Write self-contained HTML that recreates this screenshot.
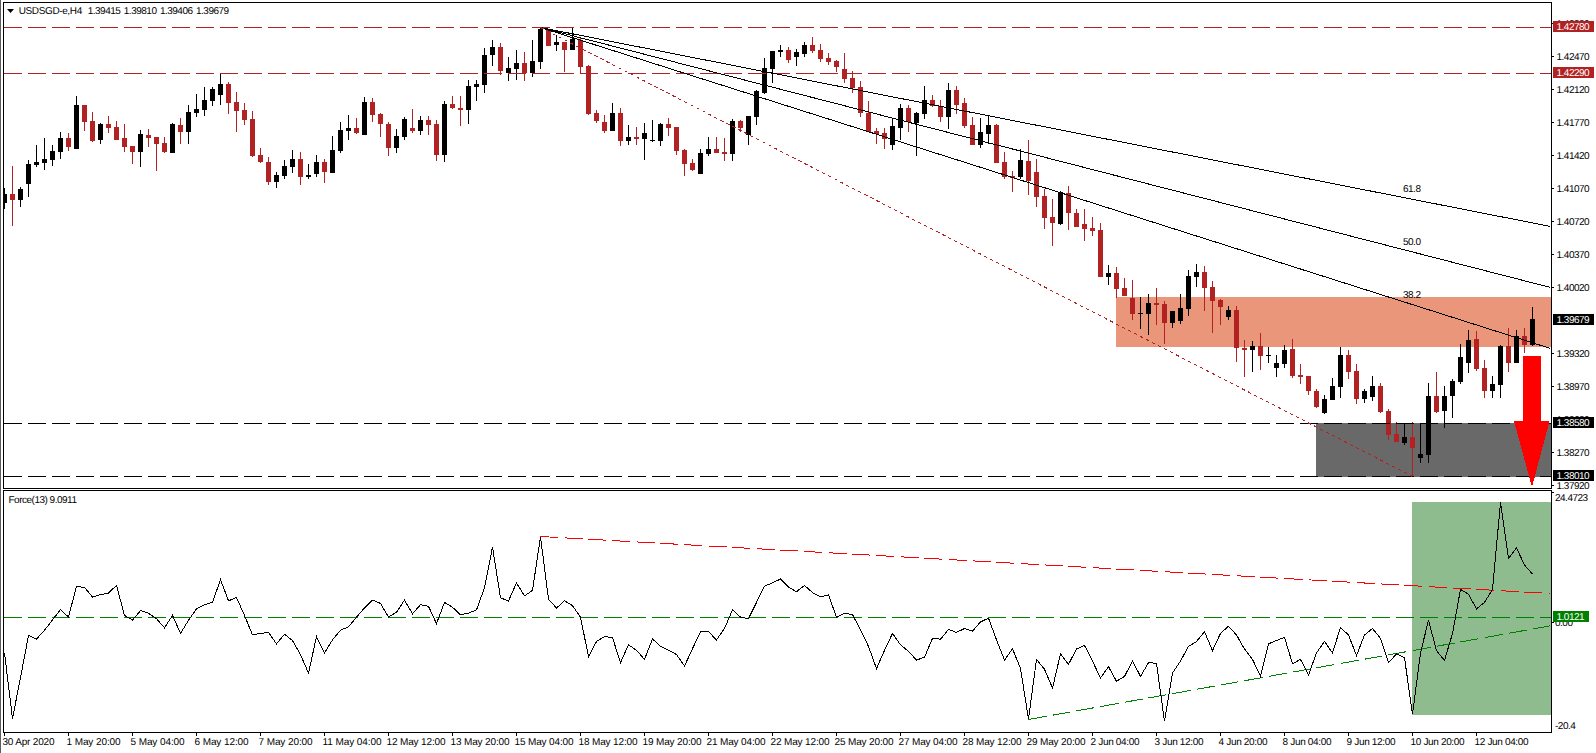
<!DOCTYPE html>
<html><head><meta charset="utf-8"><title>USDSGD H4</title>
<style>html,body{margin:0;padding:0;background:#fff;overflow:hidden}svg text{white-space:pre}</style>
</head><body>
<svg width="1596" height="753" viewBox="0 0 1596 753" style="display:block">
<rect x="0" y="0" width="1596" height="753" fill="#fff"/>
<rect x="0" y="0" width="1" height="753" fill="#5c5c5c"/>
<g shape-rendering="crispEdges">
<rect x="1116" y="297" width="435" height="50" fill="#E9967A"/>
<rect x="1316" y="423" width="235" height="54" fill="#696969"/>
<rect x="1412" y="502" width="139" height="213" fill="#8FBC8F"/>
</g>
<g shape-rendering="crispEdges">
<rect x="4" y="188" width="1" height="21" fill="#000"/>
<rect x="4" y="194" width="3" height="9" fill="#000"/>
<rect x="12" y="166" width="1" height="60" fill="#B22222"/>
<rect x="10" y="194" width="5" height="6" fill="#B22222"/>
<rect x="20" y="187" width="1" height="20" fill="#000"/>
<rect x="18" y="189" width="5" height="11" fill="#000"/>
<rect x="28" y="160" width="1" height="37" fill="#000"/>
<rect x="26" y="164" width="5" height="20" fill="#000"/>
<rect x="36" y="145" width="1" height="22" fill="#000"/>
<rect x="34" y="162" width="5" height="3" fill="#000"/>
<rect x="44" y="138" width="1" height="32" fill="#000"/>
<rect x="42" y="159" width="5" height="4" fill="#000"/>
<rect x="52" y="145" width="1" height="21" fill="#000"/>
<rect x="50" y="151" width="5" height="9" fill="#000"/>
<rect x="60" y="132" width="1" height="27" fill="#000"/>
<rect x="58" y="138" width="5" height="14" fill="#000"/>
<rect x="68" y="133" width="1" height="18" fill="#B22222"/>
<rect x="66" y="138" width="5" height="9" fill="#B22222"/>
<rect x="76" y="96" width="1" height="53" fill="#000"/>
<rect x="74" y="105" width="5" height="44" fill="#000"/>
<rect x="84" y="105" width="1" height="26" fill="#B22222"/>
<rect x="82" y="105" width="5" height="17" fill="#B22222"/>
<rect x="92" y="112" width="1" height="30" fill="#B22222"/>
<rect x="90" y="121" width="5" height="20" fill="#B22222"/>
<rect x="100" y="123" width="1" height="21" fill="#000"/>
<rect x="98" y="124" width="5" height="16" fill="#000"/>
<rect x="108" y="116" width="1" height="17" fill="#B22222"/>
<rect x="106" y="124" width="5" height="4" fill="#B22222"/>
<rect x="116" y="121" width="1" height="19" fill="#B22222"/>
<rect x="114" y="127" width="5" height="13" fill="#B22222"/>
<rect x="124" y="124" width="1" height="28" fill="#B22222"/>
<rect x="122" y="138" width="5" height="9" fill="#B22222"/>
<rect x="132" y="146" width="1" height="18" fill="#B22222"/>
<rect x="130" y="146" width="5" height="6" fill="#B22222"/>
<rect x="140" y="130" width="1" height="37" fill="#000"/>
<rect x="138" y="134" width="5" height="18" fill="#000"/>
<rect x="148" y="129" width="1" height="18" fill="#B22222"/>
<rect x="146" y="135" width="5" height="3" fill="#B22222"/>
<rect x="156" y="137" width="1" height="34" fill="#B22222"/>
<rect x="154" y="137" width="5" height="7" fill="#B22222"/>
<rect x="164" y="137" width="1" height="16" fill="#B22222"/>
<rect x="162" y="143" width="5" height="9" fill="#B22222"/>
<rect x="172" y="123" width="1" height="30" fill="#000"/>
<rect x="170" y="124" width="5" height="29" fill="#000"/>
<rect x="180" y="118" width="1" height="26" fill="#B22222"/>
<rect x="178" y="125" width="5" height="7" fill="#B22222"/>
<rect x="188" y="105" width="1" height="39" fill="#000"/>
<rect x="186" y="112" width="5" height="20" fill="#000"/>
<rect x="196" y="94" width="1" height="23" fill="#000"/>
<rect x="194" y="109" width="5" height="4" fill="#000"/>
<rect x="204" y="87" width="1" height="29" fill="#000"/>
<rect x="202" y="100" width="5" height="10" fill="#000"/>
<rect x="212" y="87" width="1" height="19" fill="#000"/>
<rect x="210" y="89" width="5" height="12" fill="#000"/>
<rect x="220" y="73" width="1" height="32" fill="#000"/>
<rect x="218" y="84" width="5" height="11" fill="#000"/>
<rect x="228" y="82" width="1" height="32" fill="#B22222"/>
<rect x="226" y="84" width="5" height="19" fill="#B22222"/>
<rect x="236" y="92" width="1" height="40" fill="#B22222"/>
<rect x="234" y="102" width="5" height="9" fill="#B22222"/>
<rect x="244" y="103" width="1" height="22" fill="#B22222"/>
<rect x="242" y="110" width="5" height="10" fill="#B22222"/>
<rect x="252" y="111" width="1" height="46" fill="#B22222"/>
<rect x="250" y="119" width="5" height="37" fill="#B22222"/>
<rect x="260" y="148" width="1" height="15" fill="#B22222"/>
<rect x="258" y="155" width="5" height="7" fill="#B22222"/>
<rect x="268" y="157" width="1" height="28" fill="#B22222"/>
<rect x="266" y="162" width="5" height="20" fill="#B22222"/>
<rect x="276" y="172" width="1" height="16" fill="#000"/>
<rect x="274" y="175" width="5" height="7" fill="#000"/>
<rect x="284" y="160" width="1" height="19" fill="#000"/>
<rect x="282" y="166" width="5" height="10" fill="#000"/>
<rect x="292" y="150" width="1" height="23" fill="#000"/>
<rect x="290" y="159" width="5" height="8" fill="#000"/>
<rect x="300" y="152" width="1" height="33" fill="#B22222"/>
<rect x="298" y="159" width="5" height="18" fill="#B22222"/>
<rect x="308" y="164" width="1" height="15" fill="#000"/>
<rect x="306" y="175" width="5" height="2" fill="#000"/>
<rect x="316" y="155" width="1" height="22" fill="#000"/>
<rect x="314" y="162" width="5" height="12" fill="#000"/>
<rect x="324" y="159" width="1" height="24" fill="#B22222"/>
<rect x="322" y="162" width="5" height="10" fill="#B22222"/>
<rect x="332" y="136" width="1" height="37" fill="#000"/>
<rect x="330" y="150" width="5" height="23" fill="#000"/>
<rect x="340" y="122" width="1" height="31" fill="#000"/>
<rect x="338" y="130" width="5" height="21" fill="#000"/>
<rect x="348" y="115" width="1" height="25" fill="#000"/>
<rect x="346" y="128" width="5" height="3" fill="#000"/>
<rect x="356" y="118" width="1" height="16" fill="#B22222"/>
<rect x="354" y="128" width="5" height="5" fill="#B22222"/>
<rect x="364" y="97" width="1" height="38" fill="#000"/>
<rect x="362" y="102" width="5" height="33" fill="#000"/>
<rect x="372" y="98" width="1" height="24" fill="#B22222"/>
<rect x="370" y="102" width="5" height="13" fill="#B22222"/>
<rect x="380" y="113" width="1" height="24" fill="#B22222"/>
<rect x="378" y="114" width="5" height="10" fill="#B22222"/>
<rect x="388" y="122" width="1" height="34" fill="#B22222"/>
<rect x="386" y="124" width="5" height="24" fill="#B22222"/>
<rect x="396" y="129" width="1" height="24" fill="#000"/>
<rect x="394" y="136" width="5" height="12" fill="#000"/>
<rect x="404" y="117" width="1" height="23" fill="#000"/>
<rect x="402" y="119" width="5" height="18" fill="#000"/>
<rect x="412" y="109" width="1" height="24" fill="#B22222"/>
<rect x="410" y="128" width="5" height="3" fill="#B22222"/>
<rect x="420" y="116" width="1" height="19" fill="#000"/>
<rect x="418" y="120" width="5" height="11" fill="#000"/>
<rect x="428" y="116" width="1" height="19" fill="#B22222"/>
<rect x="426" y="120" width="5" height="5" fill="#B22222"/>
<rect x="436" y="120" width="1" height="41" fill="#B22222"/>
<rect x="434" y="124" width="5" height="31" fill="#B22222"/>
<rect x="444" y="101" width="1" height="61" fill="#000"/>
<rect x="442" y="104" width="5" height="51" fill="#000"/>
<rect x="452" y="96" width="1" height="13" fill="#B22222"/>
<rect x="450" y="104" width="5" height="4" fill="#B22222"/>
<rect x="460" y="96" width="1" height="30" fill="#B22222"/>
<rect x="458" y="108" width="5" height="2" fill="#B22222"/>
<rect x="468" y="80" width="1" height="44" fill="#000"/>
<rect x="466" y="86" width="5" height="24" fill="#000"/>
<rect x="476" y="80" width="1" height="21" fill="#000"/>
<rect x="474" y="84" width="5" height="3" fill="#000"/>
<rect x="484" y="48" width="1" height="45" fill="#000"/>
<rect x="482" y="55" width="5" height="30" fill="#000"/>
<rect x="492" y="40" width="1" height="26" fill="#000"/>
<rect x="490" y="47" width="5" height="8" fill="#000"/>
<rect x="500" y="43" width="1" height="32" fill="#B22222"/>
<rect x="498" y="47" width="5" height="24" fill="#B22222"/>
<rect x="508" y="57" width="1" height="24" fill="#000"/>
<rect x="506" y="68" width="5" height="5" fill="#000"/>
<rect x="516" y="50" width="1" height="30" fill="#000"/>
<rect x="514" y="63" width="5" height="6" fill="#000"/>
<rect x="524" y="52" width="1" height="29" fill="#B22222"/>
<rect x="522" y="63" width="5" height="10" fill="#B22222"/>
<rect x="532" y="40" width="1" height="37" fill="#000"/>
<rect x="530" y="61" width="5" height="12" fill="#000"/>
<rect x="540" y="28" width="1" height="41" fill="#000"/>
<rect x="538" y="29" width="5" height="33" fill="#000"/>
<rect x="548" y="29" width="1" height="17" fill="#B22222"/>
<rect x="546" y="30" width="5" height="16" fill="#B22222"/>
<rect x="556" y="35" width="1" height="16" fill="#000"/>
<rect x="554" y="42" width="5" height="3" fill="#000"/>
<rect x="564" y="42" width="1" height="30" fill="#B22222"/>
<rect x="562" y="42" width="5" height="8" fill="#B22222"/>
<rect x="572" y="28" width="1" height="22" fill="#000"/>
<rect x="570" y="39" width="5" height="11" fill="#000"/>
<rect x="580" y="37" width="1" height="36" fill="#B22222"/>
<rect x="578" y="40" width="5" height="27" fill="#B22222"/>
<rect x="588" y="65" width="1" height="50" fill="#B22222"/>
<rect x="586" y="66" width="5" height="48" fill="#B22222"/>
<rect x="596" y="110" width="1" height="13" fill="#B22222"/>
<rect x="594" y="113" width="5" height="8" fill="#B22222"/>
<rect x="604" y="115" width="1" height="18" fill="#B22222"/>
<rect x="602" y="122" width="5" height="9" fill="#B22222"/>
<rect x="612" y="103" width="1" height="28" fill="#000"/>
<rect x="610" y="113" width="5" height="18" fill="#000"/>
<rect x="620" y="108" width="1" height="38" fill="#B22222"/>
<rect x="618" y="113" width="5" height="28" fill="#B22222"/>
<rect x="628" y="125" width="1" height="20" fill="#000"/>
<rect x="626" y="137" width="5" height="4" fill="#000"/>
<rect x="636" y="127" width="1" height="18" fill="#B22222"/>
<rect x="634" y="137" width="5" height="2" fill="#B22222"/>
<rect x="644" y="123" width="1" height="37" fill="#000"/>
<rect x="642" y="133" width="5" height="6" fill="#000"/>
<rect x="652" y="120" width="1" height="22" fill="#000"/>
<rect x="650" y="140" width="5" height="1" fill="#000"/>
<rect x="660" y="123" width="1" height="23" fill="#000"/>
<rect x="658" y="124" width="5" height="17" fill="#000"/>
<rect x="668" y="118" width="1" height="18" fill="#B22222"/>
<rect x="666" y="124" width="5" height="4" fill="#B22222"/>
<rect x="676" y="127" width="1" height="28" fill="#B22222"/>
<rect x="674" y="127" width="5" height="24" fill="#B22222"/>
<rect x="684" y="149" width="1" height="27" fill="#B22222"/>
<rect x="682" y="150" width="5" height="14" fill="#B22222"/>
<rect x="692" y="159" width="1" height="12" fill="#B22222"/>
<rect x="690" y="163" width="5" height="7" fill="#B22222"/>
<rect x="700" y="149" width="1" height="25" fill="#000"/>
<rect x="698" y="153" width="5" height="21" fill="#000"/>
<rect x="708" y="137" width="1" height="19" fill="#000"/>
<rect x="706" y="149" width="5" height="5" fill="#000"/>
<rect x="716" y="137" width="1" height="16" fill="#B22222"/>
<rect x="714" y="149" width="5" height="4" fill="#B22222"/>
<rect x="724" y="138" width="1" height="23" fill="#B22222"/>
<rect x="722" y="152" width="5" height="2" fill="#B22222"/>
<rect x="732" y="119" width="1" height="42" fill="#000"/>
<rect x="730" y="121" width="5" height="33" fill="#000"/>
<rect x="740" y="120" width="1" height="12" fill="#B22222"/>
<rect x="738" y="121" width="5" height="7" fill="#B22222"/>
<rect x="748" y="116" width="1" height="29" fill="#000"/>
<rect x="746" y="116" width="5" height="19" fill="#000"/>
<rect x="756" y="90" width="1" height="35" fill="#000"/>
<rect x="754" y="91" width="5" height="26" fill="#000"/>
<rect x="764" y="58" width="1" height="36" fill="#000"/>
<rect x="762" y="68" width="5" height="25" fill="#000"/>
<rect x="772" y="51" width="1" height="32" fill="#000"/>
<rect x="770" y="51" width="5" height="18" fill="#000"/>
<rect x="780" y="45" width="1" height="12" fill="#000"/>
<rect x="778" y="50" width="5" height="2" fill="#000"/>
<rect x="788" y="47" width="1" height="16" fill="#B22222"/>
<rect x="786" y="50" width="5" height="10" fill="#B22222"/>
<rect x="796" y="49" width="1" height="17" fill="#000"/>
<rect x="794" y="52" width="5" height="5" fill="#000"/>
<rect x="804" y="42" width="1" height="15" fill="#000"/>
<rect x="802" y="45" width="5" height="9" fill="#000"/>
<rect x="812" y="37" width="1" height="16" fill="#B22222"/>
<rect x="810" y="45" width="5" height="6" fill="#B22222"/>
<rect x="820" y="44" width="1" height="18" fill="#B22222"/>
<rect x="818" y="50" width="5" height="9" fill="#B22222"/>
<rect x="828" y="53" width="1" height="12" fill="#B22222"/>
<rect x="826" y="58" width="5" height="4" fill="#B22222"/>
<rect x="836" y="60" width="1" height="12" fill="#B22222"/>
<rect x="834" y="61" width="5" height="6" fill="#B22222"/>
<rect x="844" y="53" width="1" height="30" fill="#B22222"/>
<rect x="842" y="69" width="5" height="10" fill="#B22222"/>
<rect x="852" y="71" width="1" height="22" fill="#B22222"/>
<rect x="850" y="78" width="5" height="10" fill="#B22222"/>
<rect x="860" y="81" width="1" height="36" fill="#B22222"/>
<rect x="858" y="87" width="5" height="26" fill="#B22222"/>
<rect x="868" y="101" width="1" height="31" fill="#B22222"/>
<rect x="866" y="113" width="5" height="19" fill="#B22222"/>
<rect x="876" y="128" width="1" height="16" fill="#B22222"/>
<rect x="874" y="131" width="5" height="3" fill="#B22222"/>
<rect x="884" y="128" width="1" height="21" fill="#B22222"/>
<rect x="882" y="133" width="5" height="6" fill="#B22222"/>
<rect x="892" y="119" width="1" height="31" fill="#000"/>
<rect x="890" y="126" width="5" height="19" fill="#000"/>
<rect x="900" y="104" width="1" height="36" fill="#000"/>
<rect x="898" y="108" width="5" height="20" fill="#000"/>
<rect x="908" y="105" width="1" height="27" fill="#B22222"/>
<rect x="906" y="108" width="5" height="14" fill="#B22222"/>
<rect x="916" y="112" width="1" height="44" fill="#000"/>
<rect x="914" y="113" width="5" height="10" fill="#000"/>
<rect x="924" y="86" width="1" height="33" fill="#000"/>
<rect x="922" y="100" width="5" height="14" fill="#000"/>
<rect x="932" y="95" width="1" height="12" fill="#B22222"/>
<rect x="930" y="100" width="5" height="6" fill="#B22222"/>
<rect x="940" y="100" width="1" height="22" fill="#B22222"/>
<rect x="938" y="106" width="5" height="11" fill="#B22222"/>
<rect x="948" y="83" width="1" height="46" fill="#000"/>
<rect x="946" y="90" width="5" height="27" fill="#000"/>
<rect x="956" y="86" width="1" height="28" fill="#B22222"/>
<rect x="954" y="90" width="5" height="15" fill="#B22222"/>
<rect x="964" y="98" width="1" height="30" fill="#B22222"/>
<rect x="962" y="103" width="5" height="23" fill="#B22222"/>
<rect x="972" y="117" width="1" height="28" fill="#B22222"/>
<rect x="970" y="125" width="5" height="20" fill="#B22222"/>
<rect x="980" y="118" width="1" height="30" fill="#000"/>
<rect x="978" y="132" width="5" height="13" fill="#000"/>
<rect x="988" y="115" width="1" height="29" fill="#000"/>
<rect x="986" y="125" width="5" height="9" fill="#000"/>
<rect x="996" y="124" width="1" height="39" fill="#B22222"/>
<rect x="994" y="125" width="5" height="38" fill="#B22222"/>
<rect x="1004" y="152" width="1" height="27" fill="#B22222"/>
<rect x="1002" y="162" width="5" height="15" fill="#B22222"/>
<rect x="1012" y="171" width="1" height="21" fill="#B22222"/>
<rect x="1010" y="176" width="5" height="2" fill="#B22222"/>
<rect x="1020" y="149" width="1" height="30" fill="#000"/>
<rect x="1018" y="160" width="5" height="17" fill="#000"/>
<rect x="1028" y="140" width="1" height="55" fill="#B22222"/>
<rect x="1026" y="161" width="5" height="20" fill="#B22222"/>
<rect x="1036" y="159" width="1" height="48" fill="#B22222"/>
<rect x="1034" y="172" width="5" height="25" fill="#B22222"/>
<rect x="1044" y="189" width="1" height="40" fill="#B22222"/>
<rect x="1042" y="196" width="5" height="22" fill="#B22222"/>
<rect x="1052" y="199" width="1" height="47" fill="#B22222"/>
<rect x="1050" y="217" width="5" height="6" fill="#B22222"/>
<rect x="1060" y="191" width="1" height="34" fill="#000"/>
<rect x="1058" y="192" width="5" height="32" fill="#000"/>
<rect x="1068" y="186" width="1" height="44" fill="#B22222"/>
<rect x="1066" y="193" width="5" height="20" fill="#B22222"/>
<rect x="1076" y="209" width="1" height="18" fill="#B22222"/>
<rect x="1074" y="213" width="5" height="14" fill="#B22222"/>
<rect x="1084" y="209" width="1" height="32" fill="#B22222"/>
<rect x="1082" y="224" width="5" height="5" fill="#B22222"/>
<rect x="1092" y="217" width="1" height="19" fill="#B22222"/>
<rect x="1090" y="228" width="5" height="3" fill="#B22222"/>
<rect x="1100" y="223" width="1" height="54" fill="#B22222"/>
<rect x="1098" y="230" width="5" height="47" fill="#B22222"/>
<rect x="1108" y="265" width="1" height="20" fill="#000"/>
<rect x="1106" y="273" width="5" height="4" fill="#000"/>
<rect x="1116" y="267" width="1" height="31" fill="#B22222"/>
<rect x="1114" y="273" width="5" height="16" fill="#B22222"/>
<rect x="1124" y="278" width="1" height="18" fill="#B22222"/>
<rect x="1122" y="288" width="5" height="8" fill="#B22222"/>
<rect x="1132" y="280" width="1" height="40" fill="#B22222"/>
<rect x="1130" y="298" width="5" height="16" fill="#B22222"/>
<rect x="1140" y="297" width="1" height="32" fill="#000"/>
<rect x="1138" y="313" width="5" height="1" fill="#000"/>
<rect x="1148" y="294" width="1" height="41" fill="#000"/>
<rect x="1146" y="303" width="5" height="11" fill="#000"/>
<rect x="1156" y="288" width="1" height="37" fill="#B22222"/>
<rect x="1154" y="303" width="5" height="2" fill="#B22222"/>
<rect x="1164" y="301" width="1" height="43" fill="#B22222"/>
<rect x="1162" y="304" width="5" height="19" fill="#B22222"/>
<rect x="1172" y="311" width="1" height="17" fill="#000"/>
<rect x="1170" y="311" width="5" height="12" fill="#000"/>
<rect x="1180" y="294" width="1" height="30" fill="#000"/>
<rect x="1178" y="308" width="5" height="13" fill="#000"/>
<rect x="1188" y="270" width="1" height="46" fill="#000"/>
<rect x="1186" y="276" width="5" height="33" fill="#000"/>
<rect x="1196" y="264" width="1" height="23" fill="#000"/>
<rect x="1194" y="272" width="5" height="5" fill="#000"/>
<rect x="1204" y="266" width="1" height="45" fill="#B22222"/>
<rect x="1202" y="272" width="5" height="16" fill="#B22222"/>
<rect x="1212" y="281" width="1" height="52" fill="#B22222"/>
<rect x="1210" y="287" width="5" height="14" fill="#B22222"/>
<rect x="1220" y="299" width="1" height="26" fill="#B22222"/>
<rect x="1218" y="300" width="5" height="7" fill="#B22222"/>
<rect x="1228" y="306" width="1" height="14" fill="#000"/>
<rect x="1226" y="310" width="5" height="7" fill="#000"/>
<rect x="1236" y="306" width="1" height="56" fill="#B22222"/>
<rect x="1234" y="310" width="5" height="38" fill="#B22222"/>
<rect x="1244" y="340" width="1" height="37" fill="#B22222"/>
<rect x="1242" y="348" width="5" height="2" fill="#B22222"/>
<rect x="1252" y="341" width="1" height="31" fill="#000"/>
<rect x="1250" y="346" width="5" height="4" fill="#000"/>
<rect x="1260" y="333" width="1" height="37" fill="#B22222"/>
<rect x="1258" y="346" width="5" height="10" fill="#B22222"/>
<rect x="1268" y="347" width="1" height="16" fill="#000"/>
<rect x="1266" y="355" width="5" height="1" fill="#000"/>
<rect x="1276" y="355" width="1" height="22" fill="#000"/>
<rect x="1274" y="363" width="5" height="5" fill="#000"/>
<rect x="1284" y="345" width="1" height="23" fill="#000"/>
<rect x="1282" y="350" width="5" height="14" fill="#000"/>
<rect x="1292" y="339" width="1" height="39" fill="#B22222"/>
<rect x="1290" y="349" width="5" height="27" fill="#B22222"/>
<rect x="1300" y="364" width="1" height="20" fill="#B22222"/>
<rect x="1298" y="375" width="5" height="2" fill="#B22222"/>
<rect x="1308" y="376" width="1" height="19" fill="#B22222"/>
<rect x="1306" y="376" width="5" height="15" fill="#B22222"/>
<rect x="1316" y="389" width="1" height="19" fill="#B22222"/>
<rect x="1314" y="391" width="5" height="16" fill="#B22222"/>
<rect x="1324" y="395" width="1" height="19" fill="#000"/>
<rect x="1322" y="399" width="5" height="14" fill="#000"/>
<rect x="1332" y="378" width="1" height="22" fill="#000"/>
<rect x="1330" y="386" width="5" height="14" fill="#000"/>
<rect x="1340" y="347" width="1" height="51" fill="#000"/>
<rect x="1338" y="355" width="5" height="32" fill="#000"/>
<rect x="1348" y="350" width="1" height="29" fill="#B22222"/>
<rect x="1346" y="355" width="5" height="17" fill="#B22222"/>
<rect x="1356" y="364" width="1" height="40" fill="#B22222"/>
<rect x="1354" y="371" width="5" height="28" fill="#B22222"/>
<rect x="1364" y="389" width="1" height="14" fill="#000"/>
<rect x="1362" y="391" width="5" height="8" fill="#000"/>
<rect x="1372" y="376" width="1" height="25" fill="#000"/>
<rect x="1370" y="386" width="5" height="11" fill="#000"/>
<rect x="1380" y="383" width="1" height="30" fill="#B22222"/>
<rect x="1378" y="386" width="5" height="26" fill="#B22222"/>
<rect x="1388" y="409" width="1" height="31" fill="#B22222"/>
<rect x="1386" y="411" width="5" height="24" fill="#B22222"/>
<rect x="1396" y="422" width="1" height="20" fill="#B22222"/>
<rect x="1394" y="434" width="5" height="8" fill="#B22222"/>
<rect x="1404" y="423" width="1" height="22" fill="#000"/>
<rect x="1402" y="437" width="5" height="6" fill="#000"/>
<rect x="1412" y="422" width="1" height="54" fill="#B22222"/>
<rect x="1410" y="437" width="5" height="11" fill="#B22222"/>
<rect x="1420" y="423" width="1" height="40" fill="#000"/>
<rect x="1418" y="454" width="5" height="4" fill="#000"/>
<rect x="1428" y="383" width="1" height="80" fill="#000"/>
<rect x="1426" y="396" width="5" height="59" fill="#000"/>
<rect x="1436" y="372" width="1" height="41" fill="#B22222"/>
<rect x="1434" y="396" width="5" height="16" fill="#B22222"/>
<rect x="1444" y="386" width="1" height="42" fill="#000"/>
<rect x="1442" y="396" width="5" height="15" fill="#000"/>
<rect x="1452" y="379" width="1" height="39" fill="#000"/>
<rect x="1450" y="381" width="5" height="15" fill="#000"/>
<rect x="1460" y="344" width="1" height="40" fill="#000"/>
<rect x="1458" y="357" width="5" height="25" fill="#000"/>
<rect x="1468" y="330" width="1" height="43" fill="#000"/>
<rect x="1466" y="340" width="5" height="23" fill="#000"/>
<rect x="1476" y="331" width="1" height="40" fill="#B22222"/>
<rect x="1474" y="339" width="5" height="30" fill="#B22222"/>
<rect x="1484" y="360" width="1" height="38" fill="#B22222"/>
<rect x="1482" y="368" width="5" height="23" fill="#B22222"/>
<rect x="1492" y="376" width="1" height="22" fill="#000"/>
<rect x="1490" y="384" width="5" height="7" fill="#000"/>
<rect x="1500" y="345" width="1" height="53" fill="#000"/>
<rect x="1498" y="346" width="5" height="39" fill="#000"/>
<rect x="1508" y="328" width="1" height="44" fill="#B22222"/>
<rect x="1506" y="346" width="5" height="17" fill="#B22222"/>
<rect x="1516" y="330" width="1" height="33" fill="#000"/>
<rect x="1514" y="336" width="5" height="27" fill="#000"/>
<rect x="1524" y="328" width="1" height="25" fill="#B22222"/>
<rect x="1522" y="336" width="5" height="9" fill="#B22222"/>
<rect x="1532" y="307" width="1" height="39" fill="#000"/>
<rect x="1530" y="319" width="5" height="26" fill="#000"/>
</g>
<line x1="4" y1="27.5" x2="1551" y2="27.5" stroke="#B22222" stroke-width="1" stroke-dasharray="18 6" shape-rendering="crispEdges"/>
<line x1="4" y1="73.5" x2="1551" y2="73.5" stroke="#B22222" stroke-width="1" stroke-dasharray="18 6" shape-rendering="crispEdges"/>
<line x1="4" y1="423.5" x2="1551" y2="423.5" stroke="#000" stroke-width="1" stroke-dasharray="18 6" shape-rendering="crispEdges"/>
<line x1="4" y1="476.5" x2="1551" y2="476.5" stroke="#000" stroke-width="1" stroke-dasharray="18 6" shape-rendering="crispEdges"/>
<line x1="540.5" y1="27.5" x2="1550.5" y2="348.48" stroke="#000" stroke-width="1" shape-rendering="crispEdges"/>
<line x1="540.5" y1="27.5" x2="1550.5" y2="287.47" stroke="#000" stroke-width="1" shape-rendering="crispEdges"/>
<line x1="540.5" y1="27.5" x2="1550.5" y2="226.47" stroke="#000" stroke-width="1" shape-rendering="crispEdges"/>
<line x1="540.5" y1="27.5" x2="1412.5" y2="476.5" stroke="#B22222" stroke-width="1" stroke-dasharray="3.373 3.373" shape-rendering="crispEdges"/>
<g transform="translate(1403,192) scale(1,1.0)"><text x="0" y="0" style="font-family:'Liberation Sans',sans-serif;font-size:10px;letter-spacing:-0.5px;text-rendering:geometricPrecision" fill="#000" >61.8</text></g>
<g transform="translate(1403,245) scale(1,1.0)"><text x="0" y="0" style="font-family:'Liberation Sans',sans-serif;font-size:10px;letter-spacing:-0.5px;text-rendering:geometricPrecision" fill="#000" >50.0</text></g>
<g transform="translate(1403,298) scale(1,1.0)"><text x="0" y="0" style="font-family:'Liberation Sans',sans-serif;font-size:10px;letter-spacing:-0.5px;text-rendering:geometricPrecision" fill="#000" >38.2</text></g>
<g shape-rendering="crispEdges" fill="#FF0000">
<rect x="1523" y="356" width="18" height="65"/>
<polygon points="1514,421 1549.5,421 1532,487"/>
</g>
<line x1="4" y1="617.5" x2="1551" y2="617.5" stroke="#008000" stroke-width="1" stroke-dasharray="18 6" shape-rendering="crispEdges"/>
<line x1="540.5" y1="536.5" x2="1550.5" y2="593.5" stroke="#FF0000" stroke-width="1" stroke-dasharray="18.029 6.0095" shape-rendering="crispEdges"/>
<line x1="1028.5" y1="719.5" x2="1550.5" y2="625.8" stroke="#008000" stroke-width="1" stroke-dasharray="18.29 6.095" shape-rendering="crispEdges"/>
<polyline points="4.5,653.0 12.5,718.5 20.5,677.5 28.5,635.5 36.5,639.0 44.5,630.3 52.5,619.8 60.5,609.7 68.5,617.0 76.5,586.3 84.5,587.5 92.5,597.0 100.5,594.7 108.5,593.0 116.5,585.4 124.5,615.5 132.5,620.0 140.5,610.6 148.5,613.2 156.5,618.7 164.5,627.8 172.5,615.4 180.5,633.4 188.5,620.3 196.5,608.9 204.5,604.7 212.5,602.4 220.5,579.6 228.5,600.8 236.5,597.5 244.5,615.4 252.5,635.0 260.5,633.4 268.5,632.4 276.5,643.8 284.5,634.3 292.5,640.5 300.5,654.6 308.5,673.1 316.5,636.6 324.5,652.9 332.5,639.9 340.5,630.1 348.5,626.9 356.5,617.1 364.5,608.0 372.5,600.1 380.5,603.4 388.5,617.1 396.5,612.2 404.5,600.1 412.5,613.8 420.5,604.7 428.5,606.3 436.5,623.6 444.5,602.4 452.5,607.3 460.5,614.8 468.5,613.2 476.5,609.9 484.5,587.8 492.5,547.0 500.5,597.8 508.5,601.0 516.5,582.9 524.5,595.9 532.5,590.4 540.5,536.6 548.5,599.2 556.5,608.0 564.5,600.8 572.5,605.7 580.5,617.1 588.5,656.8 596.5,641.5 604.5,636.6 612.5,637.6 620.5,662.7 628.5,644.8 636.5,650.3 644.5,659.4 652.5,638.9 660.5,646.4 668.5,650.3 676.5,654.5 684.5,666.0 692.5,648.7 700.5,631.7 708.5,631.7 716.5,639.9 724.5,628.5 732.5,609.9 740.5,617.1 748.5,618.7 756.5,602.4 764.5,586.1 772.5,582.9 780.5,579.0 788.5,587.1 796.5,591.7 804.5,585.5 812.5,592.6 820.5,596.9 828.5,594.9 836.5,617.1 844.5,613.2 852.5,614.5 860.5,630.1 868.5,646.4 876.5,668.6 884.5,650.3 892.5,633.4 900.5,644.8 908.5,651.3 916.5,660.1 924.5,657.2 932.5,638.3 940.5,639.2 948.5,629.5 956.5,632.4 964.5,628.5 972.5,631.1 980.5,622.0 988.5,618.1 996.5,639.9 1004.5,660.1 1012.5,648.7 1020.5,668.6 1028.5,719.1 1036.5,659.4 1044.5,669.2 1052.5,688.1 1060.5,653.9 1068.5,664.3 1076.5,649.0 1084.5,645.4 1092.5,661.1 1100.5,678.0 1108.5,666.6 1116.5,681.3 1124.5,676.4 1132.5,661.1 1140.5,676.4 1148.5,662.7 1156.5,663.3 1164.5,721.3 1172.5,673.1 1180.5,661.1 1188.5,646.4 1196.5,641.5 1204.5,631.7 1212.5,650.6 1220.5,633.4 1228.5,626.2 1236.5,635.0 1244.5,649.0 1252.5,659.4 1260.5,676.4 1268.5,643.8 1276.5,640.5 1284.5,637.3 1292.5,663.7 1300.5,659.4 1308.5,675.1 1316.5,652.9 1324.5,641.5 1332.5,652.9 1340.5,627.5 1348.5,635.0 1356.5,655.5 1364.5,635.0 1372.5,628.5 1380.5,638.3 1388.5,662.7 1396.5,653.9 1404.5,657.8 1412.5,714.2 1420.5,652.9 1428.5,620.3 1436.5,650.6 1444.5,660.4 1452.5,633.4 1460.5,589.4 1468.5,594.3 1476.5,608.9 1484.5,602.4 1492.5,589.4 1500.5,502.4 1508.5,558.4 1516.5,548.0 1524.5,565.0 1532.5,574.0" fill="none" stroke="#000" stroke-width="1" shape-rendering="crispEdges"/>
<g shape-rendering="crispEdges" fill="#000">
<rect x="3" y="2" width="1549" height="1"/>
<rect x="3" y="488" width="1549" height="1"/>
<rect x="3" y="2" width="1" height="487"/>
<rect x="1551" y="2" width="1" height="487"/>
<rect x="3" y="490" width="1549" height="1"/>
<rect x="3" y="732" width="1549" height="1"/>
<rect x="3" y="490" width="1" height="243"/>
<rect x="1551" y="490" width="1" height="243"/>
<rect x="4" y="733" width="1" height="3"/>
<rect x="68" y="733" width="1" height="3"/>
<rect x="132" y="733" width="1" height="3"/>
<rect x="196" y="733" width="1" height="3"/>
<rect x="260" y="733" width="1" height="3"/>
<rect x="324" y="733" width="1" height="3"/>
<rect x="388" y="733" width="1" height="3"/>
<rect x="452" y="733" width="1" height="3"/>
<rect x="516" y="733" width="1" height="3"/>
<rect x="580" y="733" width="1" height="3"/>
<rect x="644" y="733" width="1" height="3"/>
<rect x="708" y="733" width="1" height="3"/>
<rect x="772" y="733" width="1" height="3"/>
<rect x="836" y="733" width="1" height="3"/>
<rect x="900" y="733" width="1" height="3"/>
<rect x="964" y="733" width="1" height="3"/>
<rect x="1028" y="733" width="1" height="3"/>
<rect x="1092" y="733" width="1" height="3"/>
<rect x="1156" y="733" width="1" height="3"/>
<rect x="1220" y="733" width="1" height="3"/>
<rect x="1284" y="733" width="1" height="3"/>
<rect x="1348" y="733" width="1" height="3"/>
<rect x="1412" y="733" width="1" height="3"/>
<rect x="1476" y="733" width="1" height="3"/>
</g>
<rect x="1552" y="56" width="2" height="1" fill="#000" shape-rendering="crispEdges"/>
<g transform="translate(1556.5,60) scale(1,1.0)"><text x="0" y="0" style="font-family:'Liberation Sans',sans-serif;font-size:10px;letter-spacing:-0.5px;text-rendering:geometricPrecision" fill="#000" >1.42470</text></g>
<rect x="1552" y="89" width="2" height="1" fill="#000" shape-rendering="crispEdges"/>
<g transform="translate(1556.5,93) scale(1,1.0)"><text x="0" y="0" style="font-family:'Liberation Sans',sans-serif;font-size:10px;letter-spacing:-0.5px;text-rendering:geometricPrecision" fill="#000" >1.42120</text></g>
<rect x="1552" y="122" width="2" height="1" fill="#000" shape-rendering="crispEdges"/>
<g transform="translate(1556.5,126) scale(1,1.0)"><text x="0" y="0" style="font-family:'Liberation Sans',sans-serif;font-size:10px;letter-spacing:-0.5px;text-rendering:geometricPrecision" fill="#000" >1.41770</text></g>
<rect x="1552" y="155" width="2" height="1" fill="#000" shape-rendering="crispEdges"/>
<g transform="translate(1556.5,159) scale(1,1.0)"><text x="0" y="0" style="font-family:'Liberation Sans',sans-serif;font-size:10px;letter-spacing:-0.5px;text-rendering:geometricPrecision" fill="#000" >1.41420</text></g>
<rect x="1552" y="188" width="2" height="1" fill="#000" shape-rendering="crispEdges"/>
<g transform="translate(1556.5,192) scale(1,1.0)"><text x="0" y="0" style="font-family:'Liberation Sans',sans-serif;font-size:10px;letter-spacing:-0.5px;text-rendering:geometricPrecision" fill="#000" >1.41070</text></g>
<rect x="1552" y="221" width="2" height="1" fill="#000" shape-rendering="crispEdges"/>
<g transform="translate(1556.5,225) scale(1,1.0)"><text x="0" y="0" style="font-family:'Liberation Sans',sans-serif;font-size:10px;letter-spacing:-0.5px;text-rendering:geometricPrecision" fill="#000" >1.40720</text></g>
<rect x="1552" y="254" width="2" height="1" fill="#000" shape-rendering="crispEdges"/>
<g transform="translate(1556.5,258) scale(1,1.0)"><text x="0" y="0" style="font-family:'Liberation Sans',sans-serif;font-size:10px;letter-spacing:-0.5px;text-rendering:geometricPrecision" fill="#000" >1.40370</text></g>
<rect x="1552" y="287" width="2" height="1" fill="#000" shape-rendering="crispEdges"/>
<g transform="translate(1556.5,291) scale(1,1.0)"><text x="0" y="0" style="font-family:'Liberation Sans',sans-serif;font-size:10px;letter-spacing:-0.5px;text-rendering:geometricPrecision" fill="#000" >1.40020</text></g>
<rect x="1552" y="353" width="2" height="1" fill="#000" shape-rendering="crispEdges"/>
<g transform="translate(1556.5,357) scale(1,1.0)"><text x="0" y="0" style="font-family:'Liberation Sans',sans-serif;font-size:10px;letter-spacing:-0.5px;text-rendering:geometricPrecision" fill="#000" >1.39320</text></g>
<rect x="1552" y="386" width="2" height="1" fill="#000" shape-rendering="crispEdges"/>
<g transform="translate(1556.5,390) scale(1,1.0)"><text x="0" y="0" style="font-family:'Liberation Sans',sans-serif;font-size:10px;letter-spacing:-0.5px;text-rendering:geometricPrecision" fill="#000" >1.38970</text></g>
<rect x="1552" y="452" width="2" height="1" fill="#000" shape-rendering="crispEdges"/>
<g transform="translate(1556.5,456) scale(1,1.0)"><text x="0" y="0" style="font-family:'Liberation Sans',sans-serif;font-size:10px;letter-spacing:-0.5px;text-rendering:geometricPrecision" fill="#000" >1.38270</text></g>
<rect x="1552" y="485" width="2" height="1" fill="#000" shape-rendering="crispEdges"/>
<g transform="translate(1556.5,489) scale(1,1.0)"><text x="0" y="0" style="font-family:'Liberation Sans',sans-serif;font-size:10px;letter-spacing:-0.5px;text-rendering:geometricPrecision" fill="#000" >1.37920</text></g>
<rect x="1552" y="23" width="2" height="1" fill="#000"/>
<g transform="translate(1556.5,27) scale(1,1.0)"><text x="0" y="0" style="font-family:'Liberation Sans',sans-serif;font-size:10px;letter-spacing:-0.5px;text-rendering:geometricPrecision" fill="#000" >1.42830</text></g>
<g transform="translate(1556.5,423) scale(1,1.0)"><text x="0" y="0" style="font-family:'Liberation Sans',sans-serif;font-size:10px;letter-spacing:-0.5px;text-rendering:geometricPrecision" fill="#000" >1.38620</text></g>
<rect x="1553" y="21" width="41" height="11" fill="#B22222" shape-rendering="crispEdges"/>
<g transform="translate(1556.5,30) scale(1,1.0)"><text x="0" y="0" style="font-family:'Liberation Sans',sans-serif;font-size:10px;letter-spacing:-0.5px;text-rendering:geometricPrecision" fill="#fff" >1.42780</text></g>
<rect x="1553" y="67" width="41" height="11" fill="#B22222" shape-rendering="crispEdges"/>
<g transform="translate(1556.5,76) scale(1,1.0)"><text x="0" y="0" style="font-family:'Liberation Sans',sans-serif;font-size:10px;letter-spacing:-0.5px;text-rendering:geometricPrecision" fill="#fff" >1.42290</text></g>
<rect x="1553" y="314" width="41" height="11" fill="#000" shape-rendering="crispEdges"/>
<g transform="translate(1556.5,323) scale(1,1.0)"><text x="0" y="0" style="font-family:'Liberation Sans',sans-serif;font-size:10px;letter-spacing:-0.5px;text-rendering:geometricPrecision" fill="#fff" >1.39679</text></g>
<rect x="1553" y="417" width="41" height="11" fill="#000" shape-rendering="crispEdges"/>
<g transform="translate(1556.5,426) scale(1,1.0)"><text x="0" y="0" style="font-family:'Liberation Sans',sans-serif;font-size:10px;letter-spacing:-0.5px;text-rendering:geometricPrecision" fill="#fff" >1.38580</text></g>
<rect x="1553" y="470" width="41" height="11" fill="#000" shape-rendering="crispEdges"/>
<g transform="translate(1556.5,479) scale(1,1.0)"><text x="0" y="0" style="font-family:'Liberation Sans',sans-serif;font-size:10px;letter-spacing:-0.5px;text-rendering:geometricPrecision" fill="#fff" >1.38010</text></g>
<rect x="1552" y="492" width="2" height="1" fill="#000"/>
<g transform="translate(1555,501) scale(1,1.0)"><text x="0" y="0" style="font-family:'Liberation Sans',sans-serif;font-size:10px;letter-spacing:-0.5px;text-rendering:geometricPrecision" fill="#000" >24.4723</text></g>
<rect x="1552" y="622" width="2" height="1" fill="#000"/>
<g transform="translate(1555,626) scale(1,1.0)"><text x="0" y="0" style="font-family:'Liberation Sans',sans-serif;font-size:10px;letter-spacing:-0.5px;text-rendering:geometricPrecision" fill="#000" >0.00</text></g>
<g transform="translate(1555,729) scale(1,1.0)"><text x="0" y="0" style="font-family:'Liberation Sans',sans-serif;font-size:10px;letter-spacing:-0.5px;text-rendering:geometricPrecision" fill="#000" >-20.4</text></g>
<rect x="1553" y="611" width="36" height="11" fill="#008000" shape-rendering="crispEdges"/>
<g transform="translate(1556.5,620) scale(1,1.0)"><text x="0" y="0" style="font-family:'Liberation Sans',sans-serif;font-size:10px;letter-spacing:-0.5px;text-rendering:geometricPrecision" fill="#fff" >1.0121</text></g>
<g transform="translate(2.5,745) scale(1,1.0)"><text x="0" y="0" style="font-family:'Liberation Sans',sans-serif;font-size:10px;letter-spacing:-0.5px;text-rendering:geometricPrecision" fill="#000" textLength="51.5" lengthAdjust="spacing">30 Apr 2020</text></g>
<g transform="translate(66.5,745) scale(1,1.0)"><text x="0" y="0" style="font-family:'Liberation Sans',sans-serif;font-size:10px;letter-spacing:-0.5px;text-rendering:geometricPrecision" fill="#000" textLength="53.6" lengthAdjust="spacing">1 May 20:00</text></g>
<g transform="translate(130.5,745) scale(1,1.0)"><text x="0" y="0" style="font-family:'Liberation Sans',sans-serif;font-size:10px;letter-spacing:-0.5px;text-rendering:geometricPrecision" fill="#000" textLength="53.6" lengthAdjust="spacing">5 May 04:00</text></g>
<g transform="translate(194.5,745) scale(1,1.0)"><text x="0" y="0" style="font-family:'Liberation Sans',sans-serif;font-size:10px;letter-spacing:-0.5px;text-rendering:geometricPrecision" fill="#000" textLength="53.6" lengthAdjust="spacing">6 May 12:00</text></g>
<g transform="translate(258.5,745) scale(1,1.0)"><text x="0" y="0" style="font-family:'Liberation Sans',sans-serif;font-size:10px;letter-spacing:-0.5px;text-rendering:geometricPrecision" fill="#000" textLength="53.6" lengthAdjust="spacing">7 May 20:00</text></g>
<g transform="translate(322.5,745) scale(1,1.0)"><text x="0" y="0" style="font-family:'Liberation Sans',sans-serif;font-size:10px;letter-spacing:-0.5px;text-rendering:geometricPrecision" fill="#000" textLength="58.6" lengthAdjust="spacing">11 May 04:00</text></g>
<g transform="translate(386.5,745) scale(1,1.0)"><text x="0" y="0" style="font-family:'Liberation Sans',sans-serif;font-size:10px;letter-spacing:-0.5px;text-rendering:geometricPrecision" fill="#000" textLength="58.6" lengthAdjust="spacing">12 May 12:00</text></g>
<g transform="translate(450.5,745) scale(1,1.0)"><text x="0" y="0" style="font-family:'Liberation Sans',sans-serif;font-size:10px;letter-spacing:-0.5px;text-rendering:geometricPrecision" fill="#000" textLength="58.6" lengthAdjust="spacing">13 May 20:00</text></g>
<g transform="translate(514.5,745) scale(1,1.0)"><text x="0" y="0" style="font-family:'Liberation Sans',sans-serif;font-size:10px;letter-spacing:-0.5px;text-rendering:geometricPrecision" fill="#000" textLength="58.6" lengthAdjust="spacing">15 May 04:00</text></g>
<g transform="translate(578.5,745) scale(1,1.0)"><text x="0" y="0" style="font-family:'Liberation Sans',sans-serif;font-size:10px;letter-spacing:-0.5px;text-rendering:geometricPrecision" fill="#000" textLength="58.6" lengthAdjust="spacing">18 May 12:00</text></g>
<g transform="translate(642.5,745) scale(1,1.0)"><text x="0" y="0" style="font-family:'Liberation Sans',sans-serif;font-size:10px;letter-spacing:-0.5px;text-rendering:geometricPrecision" fill="#000" textLength="58.6" lengthAdjust="spacing">19 May 20:00</text></g>
<g transform="translate(706.5,745) scale(1,1.0)"><text x="0" y="0" style="font-family:'Liberation Sans',sans-serif;font-size:10px;letter-spacing:-0.5px;text-rendering:geometricPrecision" fill="#000" textLength="58.6" lengthAdjust="spacing">21 May 04:00</text></g>
<g transform="translate(770.5,745) scale(1,1.0)"><text x="0" y="0" style="font-family:'Liberation Sans',sans-serif;font-size:10px;letter-spacing:-0.5px;text-rendering:geometricPrecision" fill="#000" textLength="58.6" lengthAdjust="spacing">22 May 12:00</text></g>
<g transform="translate(834.5,745) scale(1,1.0)"><text x="0" y="0" style="font-family:'Liberation Sans',sans-serif;font-size:10px;letter-spacing:-0.5px;text-rendering:geometricPrecision" fill="#000" textLength="58.6" lengthAdjust="spacing">25 May 20:00</text></g>
<g transform="translate(898.5,745) scale(1,1.0)"><text x="0" y="0" style="font-family:'Liberation Sans',sans-serif;font-size:10px;letter-spacing:-0.5px;text-rendering:geometricPrecision" fill="#000" textLength="58.6" lengthAdjust="spacing">27 May 04:00</text></g>
<g transform="translate(962.5,745) scale(1,1.0)"><text x="0" y="0" style="font-family:'Liberation Sans',sans-serif;font-size:10px;letter-spacing:-0.5px;text-rendering:geometricPrecision" fill="#000" textLength="58.6" lengthAdjust="spacing">28 May 12:00</text></g>
<g transform="translate(1026.5,745) scale(1,1.0)"><text x="0" y="0" style="font-family:'Liberation Sans',sans-serif;font-size:10px;letter-spacing:-0.5px;text-rendering:geometricPrecision" fill="#000" textLength="58.6" lengthAdjust="spacing">29 May 20:00</text></g>
<g transform="translate(1090.5,745) scale(1,1.0)"><text x="0" y="0" style="font-family:'Liberation Sans',sans-serif;font-size:10px;letter-spacing:-0.5px;text-rendering:geometricPrecision" fill="#000" textLength="48.6" lengthAdjust="spacing">2 Jun 04:00</text></g>
<g transform="translate(1154.5,745) scale(1,1.0)"><text x="0" y="0" style="font-family:'Liberation Sans',sans-serif;font-size:10px;letter-spacing:-0.5px;text-rendering:geometricPrecision" fill="#000" textLength="48.6" lengthAdjust="spacing">3 Jun 12:00</text></g>
<g transform="translate(1218.5,745) scale(1,1.0)"><text x="0" y="0" style="font-family:'Liberation Sans',sans-serif;font-size:10px;letter-spacing:-0.5px;text-rendering:geometricPrecision" fill="#000" textLength="48.6" lengthAdjust="spacing">4 Jun 20:00</text></g>
<g transform="translate(1282.5,745) scale(1,1.0)"><text x="0" y="0" style="font-family:'Liberation Sans',sans-serif;font-size:10px;letter-spacing:-0.5px;text-rendering:geometricPrecision" fill="#000" textLength="48.6" lengthAdjust="spacing">8 Jun 04:00</text></g>
<g transform="translate(1346.5,745) scale(1,1.0)"><text x="0" y="0" style="font-family:'Liberation Sans',sans-serif;font-size:10px;letter-spacing:-0.5px;text-rendering:geometricPrecision" fill="#000" textLength="48.6" lengthAdjust="spacing">9 Jun 12:00</text></g>
<g transform="translate(1410.5,745) scale(1,1.0)"><text x="0" y="0" style="font-family:'Liberation Sans',sans-serif;font-size:10px;letter-spacing:-0.5px;text-rendering:geometricPrecision" fill="#000" textLength="53.6" lengthAdjust="spacing">10 Jun 20:00</text></g>
<g transform="translate(1474.5,745) scale(1,1.0)"><text x="0" y="0" style="font-family:'Liberation Sans',sans-serif;font-size:10px;letter-spacing:-0.5px;text-rendering:geometricPrecision" fill="#000" textLength="53.6" lengthAdjust="spacing">12 Jun 04:00</text></g>
<polygon points="7,9 14,9 10.5,13" fill="#000"/>
<g transform="translate(18.7,14) scale(1,1.0)"><text x="0" y="0" style="font-family:'Liberation Sans',sans-serif;font-size:10px;letter-spacing:-0.5px;text-rendering:geometricPrecision" fill="#000" textLength="63" lengthAdjust="spacing">USDSGD-e,H4</text></g>
<g transform="translate(87.7,14) scale(1,1.0)"><text x="0" y="0" style="font-family:'Liberation Sans',sans-serif;font-size:10px;letter-spacing:-0.5px;text-rendering:geometricPrecision" fill="#000" >1.39415</text></g>
<g transform="translate(123.8,14) scale(1,1.0)"><text x="0" y="0" style="font-family:'Liberation Sans',sans-serif;font-size:10px;letter-spacing:-0.5px;text-rendering:geometricPrecision" fill="#000" >1.39810</text></g>
<g transform="translate(159.9,14) scale(1,1.0)"><text x="0" y="0" style="font-family:'Liberation Sans',sans-serif;font-size:10px;letter-spacing:-0.5px;text-rendering:geometricPrecision" fill="#000" >1.39406</text></g>
<g transform="translate(196.0,14) scale(1,1.0)"><text x="0" y="0" style="font-family:'Liberation Sans',sans-serif;font-size:10px;letter-spacing:-0.5px;text-rendering:geometricPrecision" fill="#000" >1.39679</text></g>
<g transform="translate(8.5,503) scale(1,1.0)"><text x="0" y="0" style="font-family:'Liberation Sans',sans-serif;font-size:10px;letter-spacing:-0.5px;text-rendering:geometricPrecision" fill="#000" >Force(13) 9.0911</text></g>
</svg>
</body></html>
